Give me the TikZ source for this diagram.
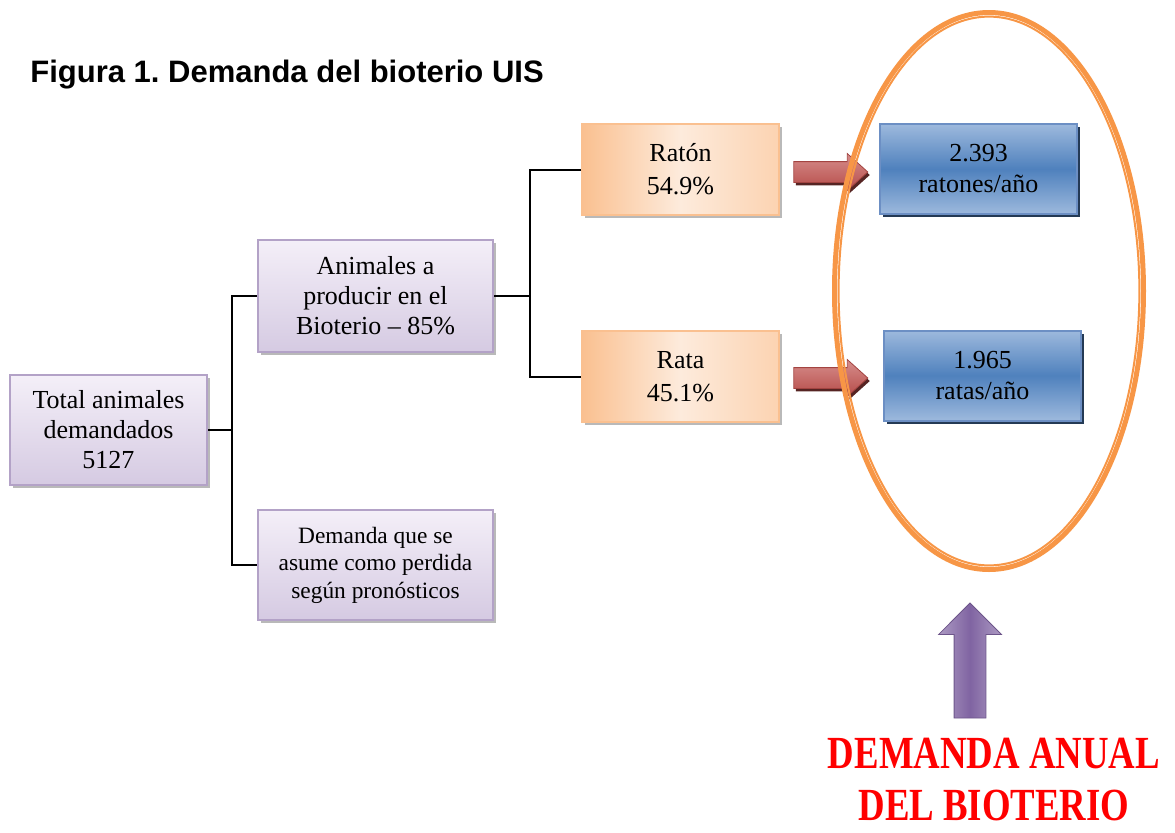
\documentclass[tikz,border=0pt]{standalone}
\usepackage{fontspec}
\setmainfont{Liberation Serif}
\newfontfamily\titlefont{Liberation Sans}
\newfontfamily\bannerfont[FakeStretch=0.8]{Liberation Serif}
\usetikzlibrary{shapes.arrows,shadows}
\frenchspacing

\definecolor{lilaborde}{HTML}{B3A2C7}
\definecolor{lilaclaro}{HTML}{F4EFF8}
\definecolor{lilaoscuro}{HTML}{D5CAE2}
\definecolor{durazno}{HTML}{FAC090}
\definecolor{duraznoclaro}{HTML}{FDEBDC}
\definecolor{azul}{HTML}{4F81BD}
\definecolor{azulclaro}{HTML}{9DB9DD}
\definecolor{azulborde}{HTML}{6C8FC4}
\definecolor{naranja}{HTML}{F79646}
\definecolor{rojoflecha}{HTML}{C0504D}
\definecolor{morado}{HTML}{8064A2}

\begin{document}
\begin{tikzpicture}[x=0.5pt,y=-0.5pt,
  caja/.style={draw=lilaborde,line width=1pt,top color=lilaclaro,bottom color=lilaoscuro,
    drop shadow={shadow xshift=1.5pt,shadow yshift=-1.5pt,fill=gray!55,opacity=1},
    align=center,inner sep=2pt,font=\fontsize{13}{15}\selectfont},
  especie/.style={draw=durazno,line width=1pt,left color=durazno,right color=durazno!70,middle color=duraznoclaro,
    drop shadow={shadow xshift=1.5pt,shadow yshift=-1.5pt,fill=gray!55,opacity=1},
    align=center,minimum width=98.5pt,minimum height=45.5pt,font=\fontsize{13}{16.5}\selectfont},
  anual/.style={draw=azulborde,line width=1pt,top color=azulclaro,bottom color=azulclaro,middle color=azul,
    drop shadow={shadow xshift=1.5pt,shadow yshift=-1.5pt,fill=azul!45!black,opacity=1},
    align=center,minimum width=98.5pt,minimum height=45pt,font=\fontsize{13}{15.5}\selectfont},
  conector/.style={line width=1pt,black},
  flecharoja/.style={single arrow,draw=rojoflecha!85!black,top color=rojoflecha!65!white,bottom color=rojoflecha!95!black,
    drop shadow={shadow xshift=1pt,shadow yshift=-1.5pt,fill=rojoflecha!45!black,opacity=1},
    minimum height=37pt,inner sep=5pt,single arrow head extend=4pt,single arrow tip angle=84},
  flechamorada/.style={single arrow,shape border rotate=90,draw=morado!85!black,
    left color=morado!65!white,right color=morado!65!white,middle color=morado,
    minimum height=57.5pt,inner sep=7.75pt,single arrow head extend=7.75pt},
  banner/.style={align=center,inner sep=0pt,text=red,font=\bannerfont\bfseries\fontsize{23}{25.6}\selectfont}]
\useasboundingbox (0,0) rectangle (1175,832);

\node[anchor=base west,inner sep=0pt,font=\titlefont\bfseries\fontsize{15.5}{18}\selectfont] (titulo) at (30,82) {Figura 1. Demanda del bioterio UIS};

\node[caja,minimum width=98.5pt,minimum height=55pt] (total) at (108.5,430) {Total animales\\demandados\\5127};
\node[caja,minimum width=117.5pt,minimum height=56pt] (producir) at (375.5,296) {Animales a\\producir en el\\Bioterio -- 85\%};
\node[caja,minimum width=117.5pt,minimum height=55pt,font=\fontsize{11.7}{13.7}\selectfont] (perdida) at (375.5,565) {Demanda que se\\asume como perdida\\según pronósticos};

\node[especie] (raton) at (680.5,169.5) {Ratón\\54.9\%};
\node[especie] (rata) at (680.5,376.5) {Rata\\45.1\%};

\node[anual] (ratones) at (978.5,169) {2.393\\ratones/año};
\node[anual] (ratas) at (982.5,375.5) {1.965\\ratas/año};

\coordinate (rama1) at (232,430);
\coordinate (rama2) at (530,296);
\draw[conector] (total.east) -- (total.east -| rama1);
\draw[conector] (producir.west) -| (rama1 |- perdida.west) -- (perdida.west);
\draw[conector] (producir.east) -- (producir.east -| rama2);
\draw[conector] (raton.west) -| (rama2 |- rata.west) -- (rata.west);

\node[flecharoja] (flecha1) at (825,172) {};
\node[flecharoja] (flecha2) at (825,378) {};

\draw[naranja,line width=2.5pt] (989,291) ellipse [x radius=77.25pt,y radius=139.25pt];
\draw[naranja,line width=1pt] (989,291) ellipse [x radius=75.2pt,y radius=137.2pt];

\node[flechamorada] (flecha3) at (970,668.5) {};

\node[banner,anchor=south] (lema) at (994,821) {DEMANDA ANUAL\\DEL BIOTERIO};
\end{tikzpicture}
\end{document}
